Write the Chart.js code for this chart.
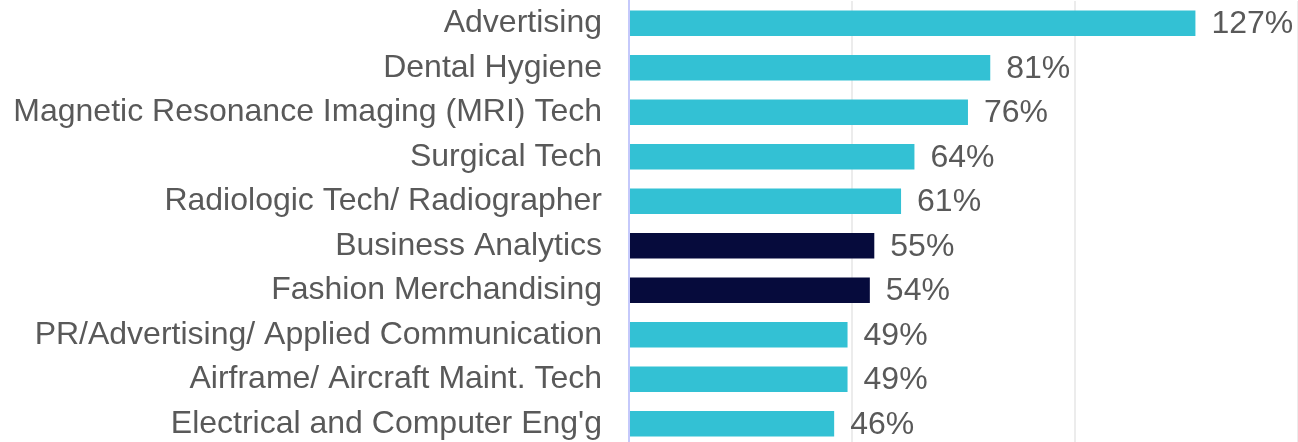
<!DOCTYPE html>
<html>
<head>
<meta charset="utf-8">
<script src="https://cdn.jsdelivr.net/npm/chart.js@4"></script>
<style>
  html, body { margin: 0; padding: 0; background: #fff; overflow: hidden; }
  #wrap { position: absolute; left: 0; top: 0; width: 1298px; height: 446px; }
</style>
</head>
<body>
<div id="wrap"><canvas id="chart"></canvas></div>
<script>
const majors = [
  'Advertising',
  'Dental Hygiene',
  'Magnetic Resonance Imaging (MRI) Tech',
  'Surgical Tech',
  'Radiologic Tech/ Radiographer',
  'Business Analytics',
  'Fashion Merchandising',
  'PR/Advertising/ Applied Communication',
  'Airframe/ Aircraft Maint. Tech',
  "Electrical and Computer Eng'g"
];
const growth = [127, 81, 76, 64, 61, 55, 54, 49, 49, 46];
const highlighted = [false, false, false, false, false, true, true, false, false, false];

const TEAL = '#33c1d4';
const NAVY = '#060b3c';
const TEXT = '#595959';
const FONT = "'Liberation Sans', Arial, sans-serif";

// draws the "127%" style labels just past the end of each bar
const valueLabels = {
  id: 'valueLabels',
  afterDatasetsDraw(chart) {
    const ctx = chart.ctx;
    const meta = chart.getDatasetMeta(0);
    ctx.save();
    ctx.font = '32px ' + FONT;
    ctx.fillStyle = TEXT;
    ctx.textAlign = 'left';
    ctx.textBaseline = 'middle';
    meta.data.forEach((bar, i) => {
      ctx.fillText(growth[i] + '%', bar.x + 16, bar.y + 1);
    });
    ctx.restore();
  }
};

new Chart(document.getElementById('chart'), {
  type: 'bar',
  data: {
    labels: majors,
    datasets: [{
      data: growth,
      backgroundColor: highlighted.map(h => (h ? NAVY : TEAL)),
      barPercentage: 0.57,
      categoryPercentage: 1
    }]
  },
  options: {
    indexAxis: 'y',
    responsive: true,
    maintainAspectRatio: false,
    animation: false,
    layout: { padding: { top: 1, right: 0, bottom: 0, left: 0 } },
    plugins: {
      legend: { display: false },
      tooltip: { enabled: false }
    },
    scales: {
      x: {
        min: 0,
        max: 150,
        ticks: { display: false, stepSize: 50 },
        grid: { color: '#ececec', lineWidth: 2, drawTicks: false },
        border: { display: false }
      },
      y: {
        afterFit(scale) {
          scale.width = 629;
          scale.paddingTop = 0;
          scale.paddingBottom = 0;
        },
        ticks: {
          color: TEXT,
          padding: 27,
          font: { family: FONT, size: 32 }
        },
        grid: { display: false, drawTicks: false },
        border: { color: '#c5c9fb', width: 2 }
      }
    }
  },
  plugins: [valueLabels]
});
</script>
</body>
</html>
